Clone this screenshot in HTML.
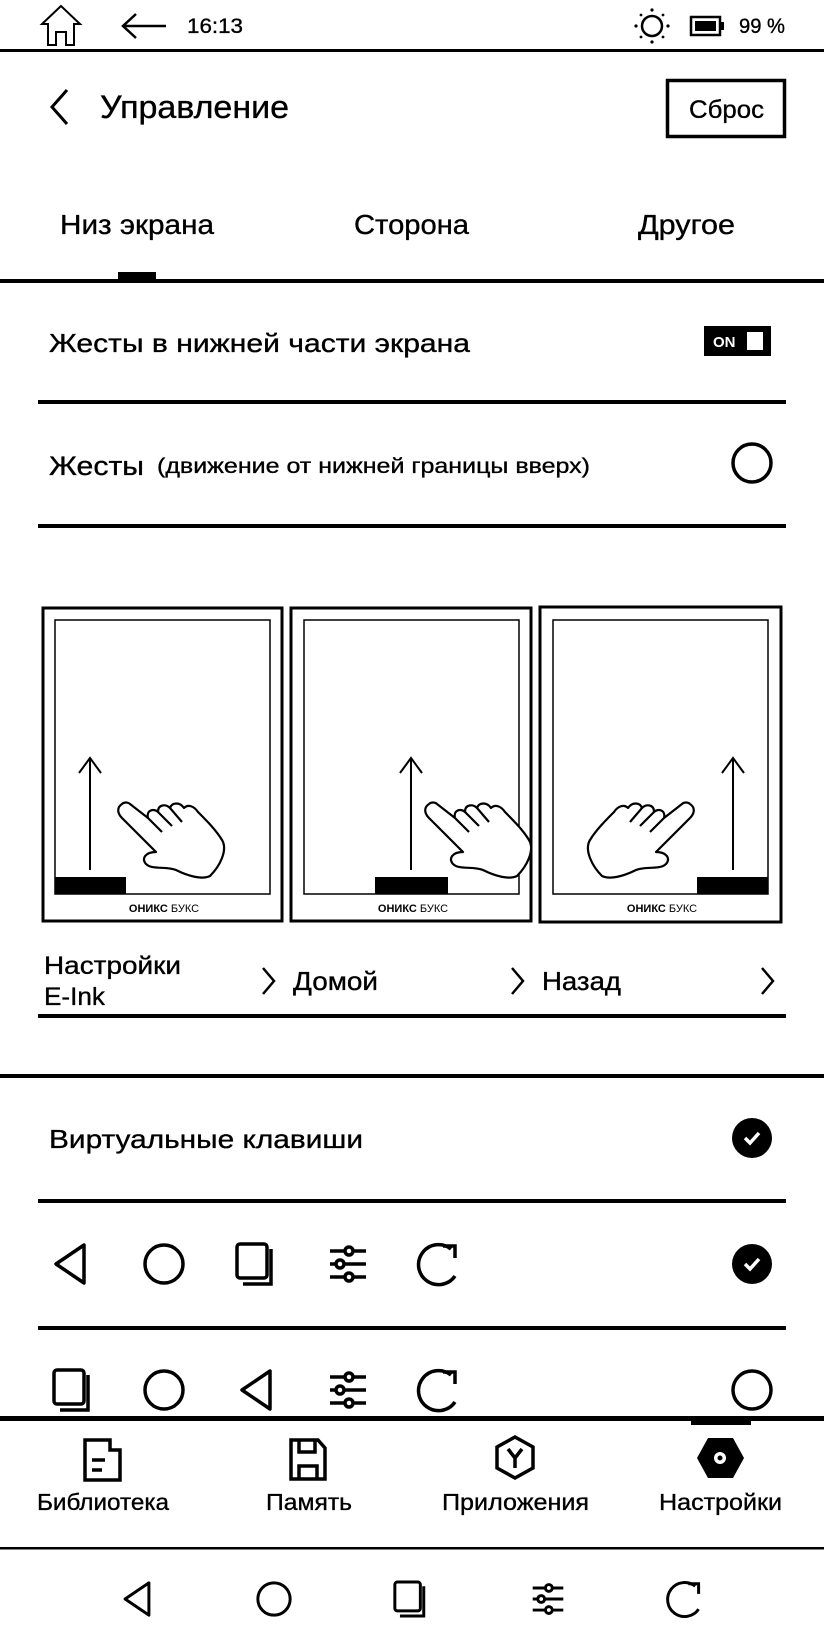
<!DOCTYPE html>
<html><head><meta charset="utf-8"><style>
html,body{margin:0;padding:0;background:#fff;}
svg{display:block;}
text{font-family:"Liberation Sans","Noto Sans CJK SC",sans-serif;fill:#000;stroke:#000;stroke-width:0.35px;}
</style></head><body>
<svg width="824" height="1648" viewBox="0 0 824 1648" xmlns="http://www.w3.org/2000/svg">
<defs>
<g id="hand" fill="#fff" stroke="#000" stroke-width="2.2" stroke-linejoin="round">
<path d="M6,4 C0,8 2,14 6,18 L40,52 C30,52 25,58 30,64 C36,70 50,66 60,70 C72,76 86,80 94,76 C104,66 112,50 106,40 C100,30 90,20 82,12 C78,6 72,4 68,8 C64,2 56,2 54,8 C50,4 42,4 42,12 C38,8 30,10 32,18 L14,4 C12,2 8,2 6,4 Z"/>
<path d="M32,18 L46,32 M42,12 L56,26 M54,8 L66,22" fill="none"/>
</g>
<g id="tri" fill="none" stroke="#000" stroke-width="3.5" stroke-linejoin="round"><path d="M14,-19 L-14,0 L14,19 Z"/></g>
<g id="circ" fill="none" stroke="#000" stroke-width="3.5"><ellipse cx="0" cy="0" rx="19" ry="19"/></g>
<g id="copy" fill="none" stroke="#000" stroke-width="3.5"><rect x="-19" y="-20" width="30" height="34" rx="3"/><path d="M15,-15 L15,20 L-13,20"/></g>
<g id="slid" stroke="#000" stroke-width="3.5" fill="none"><path d="M-18,-13 H-3 M5,-13 H18 M-18,0 H-12 M-4,0 H18 M-18,13 H-3 M5,13 H18"/><circle cx="1" cy="-13" r="4"/><circle cx="-8" cy="0" r="4"/><circle cx="1" cy="13" r="4"/></g>
<g id="refr" fill="none" stroke="#000" stroke-width="3.5"><path d="M16,12 A20,20 0 1 1 12,-15"/><path d="M4,-18 L16,-18 L16,-6" /></g>
<g id="chk"><circle r="20" fill="#000"/><path d="M-7,0 L-2,5 L7,-5" stroke="#fff" stroke-width="3.5" fill="none"/></g>
</defs>

<!-- status bar -->
<path d="M61,6 L42,24 L48,24 L48,45 L56,45 L56,32 L66,32 L66,45 L74,45 L74,24 L80,24 Z" fill="none" stroke="#000" stroke-width="2"/>
<path d="M166,26 H124 M136,14 L123,26 L136,38" fill="none" stroke="#000" stroke-width="2.5"/>
<text x="187" y="33" font-size="21" textLength="56" lengthAdjust="spacingAndGlyphs">16:13</text>
<circle cx="652" cy="26" r="10" fill="none" stroke="#000" stroke-width="2.5"/>
<g fill="#000"><circle cx="652" cy="10" r="1.6"/><circle cx="652" cy="42" r="1.6"/><circle cx="636" cy="26" r="1.6"/><circle cx="668" cy="26" r="1.6"/><circle cx="641" cy="15" r="1.4"/><circle cx="663" cy="15" r="1.4"/><circle cx="641" cy="37" r="1.4"/><circle cx="663" cy="37" r="1.4"/></g>
<rect x="691" y="17" width="29" height="18" fill="none" stroke="#000" stroke-width="2.5"/>
<rect x="695" y="21" width="21" height="10" fill="#000"/>
<rect x="720" y="22" width="4" height="8" fill="#000"/>
<text x="739" y="33" font-size="21" textLength="46" lengthAdjust="spacingAndGlyphs">99 %</text>
<rect x="0" y="49" width="824" height="3" fill="#000"/>

<!-- header -->
<path d="M67,90 L52,107 L67,124" fill="none" stroke="#000" stroke-width="3"/>
<text x="100" y="118" font-size="32" textLength="189" lengthAdjust="spacingAndGlyphs">Управление</text>
<rect x="667.5" y="80.5" width="117" height="56" fill="none" stroke="#000" stroke-width="3.5"/>
<text x="689" y="118" font-size="25" textLength="75" lengthAdjust="spacingAndGlyphs">Сброс</text>

<!-- tabs -->
<text x="60" y="234" font-size="28" textLength="154" lengthAdjust="spacingAndGlyphs">Низ экрана</text>
<text x="354" y="234" font-size="28" textLength="115" lengthAdjust="spacingAndGlyphs">Сторона</text>
<text x="638" y="234" font-size="28" textLength="97" lengthAdjust="spacingAndGlyphs">Другое</text>
<rect x="118" y="272" width="38" height="8" fill="#000"/>
<rect x="0" y="279" width="824" height="4" fill="#000"/>

<text x="49" y="352" font-size="26" textLength="421" lengthAdjust="spacingAndGlyphs">Жесты в нижней части экрана</text>
<rect x="704" y="326" width="67" height="30" fill="#000"/>
<text x="713" y="347" font-size="15" font-weight="bold" style="fill:#fff;stroke:none">ON</text>
<rect x="747" y="332" width="16" height="18" fill="#fff"/>
<rect x="38" y="400" width="748" height="4" fill="#000"/>

<text x="49" y="475" font-size="27" textLength="95" lengthAdjust="spacingAndGlyphs">Жесты</text>
<text x="157" y="473" font-size="21" textLength="433" lengthAdjust="spacingAndGlyphs">(движение от нижней границы вверх)</text>
<use href="#circ" x="752" y="463"/>
<rect x="38" y="524" width="748" height="4" fill="#000"/>

<!-- pictures -->
<g fill="none" stroke="#000">
<rect x="43" y="608" width="239" height="313" stroke-width="3"/>
<rect x="291" y="608" width="240" height="313" stroke-width="3"/>
<rect x="540" y="607" width="241" height="315" stroke-width="3"/>
<rect x="55" y="620" width="215" height="274" stroke-width="1.5"/>
<rect x="304" y="620" width="215" height="274" stroke-width="1.5"/>
<rect x="553" y="620" width="215" height="274" stroke-width="1.5"/>
<path d="M90,870 V758 M79,773 L90,758 L101,773" stroke-width="2"/>
<path d="M411,870 V758 M400,773 L411,758 L422,773" stroke-width="2"/>
<path d="M733,870 V758 M722,773 L733,758 L744,773" stroke-width="2"/>
</g>
<rect x="55" y="877" width="71" height="17" fill="#000"/>
<rect x="375" y="877" width="73" height="17" fill="#000"/>
<rect x="697" y="877" width="71" height="17" fill="#000"/>
<use href="#hand" transform="translate(116,800)"/>
<use href="#hand" transform="translate(423,800)"/>
<use href="#hand" transform="translate(696,800) scale(-1,1)"/>
<text x="164" y="912" font-size="11" text-anchor="middle" font-weight="bold" style="stroke:none">ОНИКС <tspan font-weight="normal">БУКС</tspan></text>
<text x="413" y="912" font-size="11" text-anchor="middle" font-weight="bold" style="stroke:none">ОНИКС <tspan font-weight="normal">БУКС</tspan></text>
<text x="662" y="912" font-size="11" text-anchor="middle" font-weight="bold" style="stroke:none">ОНИКС <tspan font-weight="normal">БУКС</tspan></text>

<text x="44" y="974" font-size="25" textLength="137" lengthAdjust="spacingAndGlyphs">Настройки</text>
<text x="44" y="1005" font-size="25" textLength="61" lengthAdjust="spacingAndGlyphs">E-Ink</text>
<path d="M263,968 L274,981 L263,994" fill="none" stroke="#000" stroke-width="2.5"/>
<text x="293" y="990" font-size="26" textLength="85" lengthAdjust="spacingAndGlyphs">Домой</text>
<path d="M512,968 L523,981 L512,994" fill="none" stroke="#000" stroke-width="2.5"/>
<text x="542" y="990" font-size="26" textLength="79" lengthAdjust="spacingAndGlyphs">Назад</text>
<path d="M762,968 L773,981 L762,994" fill="none" stroke="#000" stroke-width="2.5"/>
<rect x="38" y="1014" width="748" height="4" fill="#000"/>

<rect x="0" y="1074" width="824" height="4" fill="#000"/>

<text x="49" y="1148" font-size="26" textLength="314" lengthAdjust="spacingAndGlyphs">Виртуальные клавиши</text>
<use href="#chk" x="752" y="1138"/>
<rect x="38" y="1199" width="748" height="4" fill="#000"/>

<use href="#tri" x="70" y="1264"/>
<use href="#circ" x="164" y="1264"/>
<use href="#copy" x="256" y="1264"/>
<use href="#slid" x="348" y="1264"/>
<use href="#refr" x="439" y="1264"/>
<use href="#chk" x="752" y="1264"/>
<rect x="38" y="1326" width="748" height="4" fill="#000"/>

<use href="#copy" x="73" y="1390"/>
<use href="#circ" x="164" y="1390"/>
<use href="#tri" x="256" y="1390"/>
<use href="#slid" x="348" y="1390"/>
<use href="#refr" x="439" y="1390"/>
<use href="#circ" x="752" y="1390"/>

<!-- bottom nav -->
<rect x="0" y="1414" width="824" height="290" fill="#fff"/>
<rect x="0" y="1416" width="824" height="5" fill="#000"/>
<rect x="691" y="1420" width="60" height="5" fill="#000"/>
<g fill="none" stroke="#000" stroke-width="3.5">
<path d="M85,1440 H110 V1450 H120 V1480 H85 Z M110,1440 L110,1450"/>
<path d="M92,1460 H105 M92,1470 H102"/>
<path d="M291,1440 H318 L325,1448 V1479 H291 Z M299,1440 V1452 H315 V1440 M299,1479 V1466 H317 V1479"/>
<path d="M515,1437 L533,1447 V1468 L515,1478 L497,1468 V1447 Z"/>
<path d="M508,1449 L515,1458 L522,1449 M515,1458 V1468"/>
</g>
<path d="M708,1438 H733 L744,1458 L733,1478 H708 L697,1458 Z" fill="#000"/>
<circle cx="720" cy="1458" r="6" fill="#fff"/><circle cx="720" cy="1458" r="2.5" fill="#000"/>
<text x="37" y="1510" font-size="23" textLength="132" lengthAdjust="spacingAndGlyphs">Библиотека</text>
<text x="266" y="1510" font-size="23" textLength="86" lengthAdjust="spacingAndGlyphs">Память</text>
<text x="442" y="1510" font-size="23" textLength="147" lengthAdjust="spacingAndGlyphs">Приложения</text>
<text x="659" y="1510" font-size="23" textLength="123" lengthAdjust="spacingAndGlyphs">Настройки</text>
<rect x="0" y="1547" width="824" height="2.5" fill="#000"/>

<g transform="translate(137,1599) scale(0.85)"><use href="#tri"/></g>
<g transform="translate(274,1599) scale(0.85)"><use href="#circ"/></g>
<g transform="translate(411,1599) scale(0.85)"><use href="#copy"/></g>
<g transform="translate(548,1599) scale(0.85)"><use href="#slid"/></g>
<g transform="translate(685,1599) scale(0.85)"><use href="#refr"/></g>
</svg>
</body></html>
